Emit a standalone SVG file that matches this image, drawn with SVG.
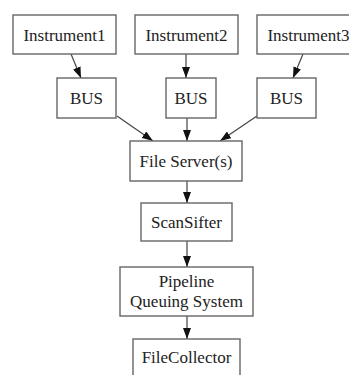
<svg xmlns="http://www.w3.org/2000/svg" width="349" height="375" viewBox="0 0 349 375">
<style>
.box{fill:#fff;stroke:#666;stroke-width:1.4}
.lbl{font-family:"Liberation Serif","Times New Roman",serif;font-size:17px;fill:#222;text-anchor:middle}
.edge{stroke:#444;stroke-width:1.2;fill:none;marker-end:url(#ah)}
</style>
<defs>
<marker id="ah" viewBox="0 0 11 8" refX="11" refY="4" markerWidth="11" markerHeight="8" markerUnits="userSpaceOnUse" orient="auto">
<path d="M0,0 L11,4 L0,8 Z" fill="#111"/>
</marker>
</defs>
<rect width="349" height="375" fill="#fff"/>
<g id="connectors">
<line class="edge" x1="71" y1="54" x2="81" y2="78"/>
<line class="edge" x1="186" y1="54" x2="186" y2="78"/>
<line class="edge" x1="303" y1="54" x2="293" y2="78"/>
<line class="edge" x1="117" y1="116" x2="153" y2="141"/>
<line class="edge" x1="187" y1="118" x2="187" y2="141"/>
<line class="edge" x1="257" y1="116" x2="220" y2="141"/>
<line class="edge" x1="187" y1="181" x2="187" y2="203"/>
<line class="edge" x1="187" y1="241" x2="187" y2="267"/>
<line class="edge" x1="187" y1="316" x2="187" y2="339"/>
</g>
<g id="instrument1"><rect class="box" x="13" y="15" width="103" height="39"/><text class="lbl" x="64.5" y="41">Instrument1</text></g>
<g id="instrument2"><rect class="box" x="135" y="15" width="103" height="39"/><text class="lbl" x="186.5" y="41">Instrument2</text></g>
<g id="instrument3"><rect class="box" x="257" y="15" width="103" height="39"/><text class="lbl" x="308.5" y="41">Instrument3</text></g>
<g id="bus1"><rect class="box" x="57" y="78" width="59" height="40"/><text class="lbl" x="86.5" y="104">BUS</text></g>
<g id="bus2"><rect class="box" x="166" y="78" width="50" height="40"/><text class="lbl" x="191" y="104">BUS</text></g>
<g id="bus3"><rect class="box" x="257" y="78" width="59" height="40"/><text class="lbl" x="286.5" y="104">BUS</text></g>
<g id="fileserver"><rect class="box" x="130" y="141" width="112" height="40"/><text class="lbl" x="186" y="167">File Server(s)</text></g>
<g id="scansifter"><rect class="box" x="141" y="203" width="91" height="38"/><text class="lbl" x="186.5" y="228">ScanSifter</text></g>
<g id="pipeline"><rect class="box" x="120" y="267" width="133" height="49"/><text class="lbl" x="186.5" y="287">Pipeline</text><text class="lbl" x="186.5" y="307">Queuing System</text></g>
<g id="filecollector"><rect class="box" x="133" y="339" width="107" height="45"/><text class="lbl" x="186.5" y="363">FileCollector</text></g>
</svg>
